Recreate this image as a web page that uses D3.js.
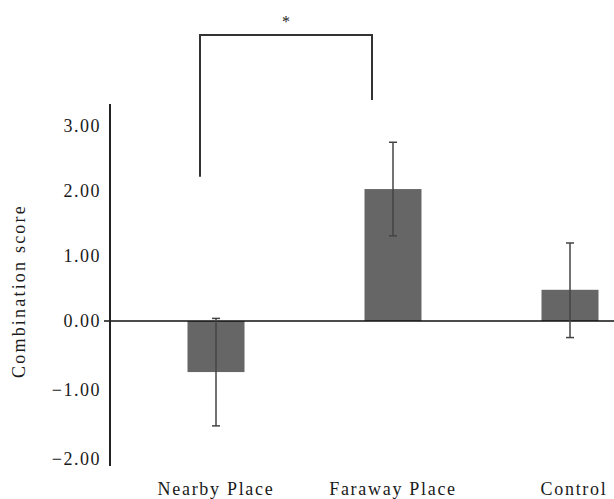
<!DOCTYPE html>
<html>
<head>
<meta charset="utf-8">
<script src="https://cdn.jsdelivr.net/npm/d3@7"></script>
<style>
  body { margin: 0; background: #fff; }
  text { font-family: "Liberation Serif", "DejaVu Serif", serif; fill: #1a1a1a; }
</style>
</head>
<body>
<div id="chart"></div>
<script>
const categories = ["Nearby Place", "Faraway Place", "Control"];
const means = [-0.74, 2.03, 0.48];
const errors = [0.78, 0.72, 0.72];
const yTicks = [3, 2, 1, 0, -1, -2];

const width = 614;
const height = 499;

const svg = d3.select("#chart").append("svg")
    .attr("width", width)
    .attr("height", height);

// axis in the picture is not quite uniform above / below zero
const y = d3.scaleLinear()
    .domain([-2, 0, 3])
    .range([459, 321, 126]);

const x = d3.scalePoint()
    .domain(categories)
    .range([216, 570]);

const barW = 57;
const axisX = 110;

// bars
svg.selectAll(".bar")
    .data(means)
    .enter().append("rect")
    .attr("class", "bar")
    .attr("x", (d, i) => x(categories[i]) - barW / 2)
    .attr("y", d => y(Math.max(0, d)))
    .attr("width", barW)
    .attr("height", d => Math.abs(y(d) - y(0)))
    .attr("fill", "#666666");

// zero line
svg.append("line")
    .attr("x1", axisX - 6)
    .attr("x2", width)
    .attr("y1", y(0))
    .attr("y2", y(0))
    .attr("stroke", "#111")
    .attr("stroke-width", 1.6);

// y axis line
svg.append("line")
    .attr("x1", axisX)
    .attr("x2", axisX)
    .attr("y1", 104)
    .attr("y2", 466)
    .attr("stroke", "#222")
    .attr("stroke-width", 2);

svg.selectAll(".ytick")
    .data(yTicks)
    .enter().append("text")
    .attr("class", "ytick")
    .attr("x", 101)
    .attr("y", d => y(d))
    .attr("dy", "0.35em")
    .attr("text-anchor", "end")
    .style("font-size", "18px")
    .style("letter-spacing", "1.5px")
    .text(d => d3.format(".2f")(d));

svg.append("text")
    .attr("transform", "translate(25," + 291 + ") rotate(-90)")
    .attr("text-anchor", "middle")
    .style("font-size", "18px")
    .style("letter-spacing", "2.2px")
    .text("Combination score");

// error bars
const err = svg.selectAll(".err")
    .data(means)
    .enter().append("g")
    .attr("class", "err")
    .attr("stroke", "#444")
    .attr("stroke-width", 1.5);

err.append("line")
    .attr("x1", (d, i) => x(categories[i]))
    .attr("x2", (d, i) => x(categories[i]))
    .attr("y1", (d, i) => y(d + errors[i]))
    .attr("y2", (d, i) => y(d - errors[i]));

err.append("line")
    .attr("x1", (d, i) => x(categories[i]) - 4)
    .attr("x2", (d, i) => x(categories[i]) + 4)
    .attr("y1", (d, i) => y(d + errors[i]))
    .attr("y2", (d, i) => y(d + errors[i]));

err.append("line")
    .attr("x1", (d, i) => x(categories[i]) - 4)
    .attr("x2", (d, i) => x(categories[i]) + 4)
    .attr("y1", (d, i) => y(d - errors[i]))
    .attr("y2", (d, i) => y(d - errors[i]));

// category labels
svg.selectAll(".xlab")
    .data(categories)
    .enter().append("text")
    .attr("class", "xlab")
    .attr("x", (d, i) => x(d) + (i === 2 ? 4 : 0))
    .attr("y", 495)
    .attr("text-anchor", "middle")
    .style("font-size", "18px")
    .style("letter-spacing", "1.7px")
    .text(d => d);

// significance bracket
const bx1 = x(categories[0]) - 16;
const bx2 = x(categories[1]) - 21;
const bTop = y(4.4);
svg.append("path")
    .attr("d", "M" + bx1 + "," + y(2.22) + "V" + bTop + "H" + bx2 + "V" + y(3.4))
    .attr("fill", "none")
    .attr("stroke", "#333")
    .attr("stroke-width", 2);

svg.append("text")
    .attr("x", (bx1 + bx2) / 2)
    .attr("y", bTop - 8)
    .attr("text-anchor", "middle")
    .style("font-size", "16px")
    .text("*");
</script>
</body>
</html>
